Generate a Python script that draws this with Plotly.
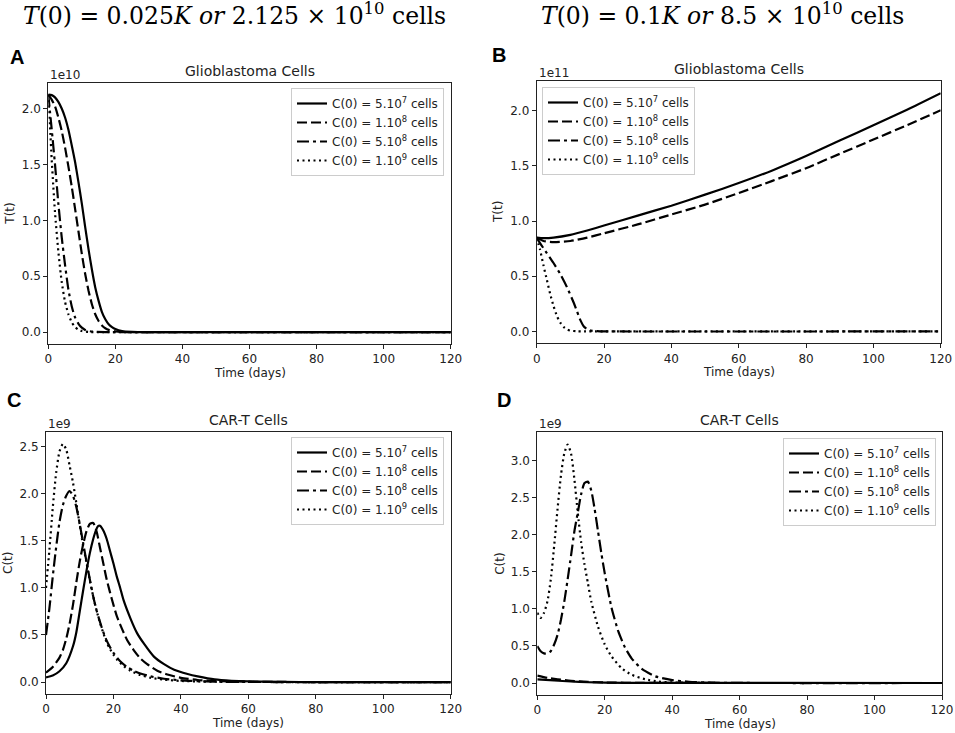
import plotly.graph_objects as go

# ---------------- data ----------------
legend_labels = ["C(0) = 5.10<sup>7</sup> cells", "C(0) = 1.10<sup>8</sup> cells",
                 "C(0) = 5.10<sup>8</sup> cells", "C(0) = 1.10<sup>9</sup> cells"]

# Panel A: T(t) in units of 1e10, T(0)=0.025K
a_t1 = [0, 1, 2, 3, 4, 5, 6, 7, 8, 9, 10, 11, 12, 13, 14, 15, 16, 17, 18, 19, 20, 22, 25, 30, 40, 120]
a_v1 = [2.125, 2.12, 2.10, 2.06, 2.00, 1.92, 1.81, 1.67, 1.52, 1.34, 1.15, 0.94, 0.74, 0.56, 0.40, 0.28, 0.18, 0.115, 0.07, 0.045, 0.028, 0.01, 0.003, 0.0005, 0, 0]
a_t2 = [0, 1, 2, 3, 4, 5, 6, 7, 8, 9, 10, 11, 12, 13, 14, 15, 16, 17, 18, 20, 22, 25, 30, 120]
a_v2 = [2.125, 2.08, 2.02, 1.92, 1.80, 1.65, 1.48, 1.30, 1.10, 0.90, 0.70, 0.52, 0.37, 0.25, 0.16, 0.10, 0.06, 0.035, 0.02, 0.007, 0.002, 0.0005, 0, 0]
a_t3 = [0, 0.5, 1, 2, 3, 4, 5, 6, 7, 8, 9, 10, 11, 12, 14, 17, 20, 120]
a_v3 = [2.125, 1.97, 1.82, 1.50, 1.15, 0.85, 0.60, 0.38, 0.23, 0.13, 0.075, 0.04, 0.02, 0.01, 0.003, 0.0005, 0, 0]
a_t4 = [0, 0.5, 1, 1.5, 2, 3, 4, 5, 6, 7, 8, 9, 10, 12, 15, 120]
a_v4 = [2.125, 1.85, 1.55, 1.30, 1.07, 0.72, 0.45, 0.27, 0.16, 0.088, 0.045, 0.022, 0.01, 0.002, 0, 0]

# Panel B: T(t) in units of 1e11, T(0)=0.1K
b_t1 = [0, 2, 5, 10, 15, 20, 30, 40, 50, 60, 70, 80, 90, 100, 110, 120]
b_v1 = [0.85, 0.845, 0.85, 0.875, 0.915, 0.96, 1.05, 1.14, 1.24, 1.345, 1.46, 1.59, 1.73, 1.87, 2.01, 2.16]
b_t2 = [0, 2, 5, 10, 15, 20, 30, 40, 50, 60, 70, 80, 90, 100, 110, 120]
b_v2 = [0.85, 0.82, 0.81, 0.82, 0.85, 0.89, 0.97, 1.06, 1.15, 1.255, 1.365, 1.48, 1.61, 1.74, 1.87, 2.005]
b_t3 = [0, 1, 3, 5, 7, 9, 11, 12, 13, 14, 15, 16, 18, 20, 120]
b_v3 = [0.85, 0.80, 0.71, 0.62, 0.52, 0.40, 0.26, 0.18, 0.10, 0.045, 0.02, 0.008, 0.002, 0, 0]
b_t4 = [0, 1, 2, 3, 4, 5, 6, 7, 8, 9, 10, 12, 14, 120]
b_v4 = [0.85, 0.74, 0.60, 0.47, 0.34, 0.23, 0.14, 0.08, 0.04, 0.018, 0.007, 0.001, 0, 0]

# Panel C: C(t) in units of 1e9, T(0)=0.025K
c_t1 = [0, 2, 4, 6, 8, 9, 10, 11, 12, 13, 14, 15, 15.5, 16, 17, 18, 19, 20, 21, 22, 23, 25, 27, 29, 32, 35, 38, 42, 45, 50, 55, 60, 70, 80, 120]
c_v1 = [0.05, 0.07, 0.115, 0.2, 0.38, 0.53, 0.75, 0.97, 1.18, 1.37, 1.52, 1.63, 1.66, 1.66, 1.61, 1.52, 1.39, 1.26, 1.12, 1.0, 0.87, 0.68, 0.52, 0.41, 0.27, 0.19, 0.13, 0.085, 0.06, 0.028, 0.014, 0.007, 0.002, 0, 0]
c_t2 = [0, 2, 4, 5, 6, 7, 8, 9, 10, 11, 12, 13, 14, 15, 16, 17, 18, 19, 20, 21, 22, 24, 26, 28, 30, 33, 36, 40, 45, 50, 60, 70, 80, 120]
c_v2 = [0.1, 0.16, 0.26, 0.34, 0.46, 0.62, 0.82, 1.06, 1.28, 1.46, 1.60, 1.68, 1.69, 1.60, 1.43, 1.26, 1.09, 0.95, 0.82, 0.70, 0.61, 0.45, 0.34, 0.25, 0.19, 0.12, 0.08, 0.045, 0.022, 0.011, 0.003, 0.001, 0, 0]
c_t3 = [0, 1, 2, 3, 4, 5, 6, 7, 8, 9, 10, 11, 12, 13, 14, 15, 16, 17, 18, 19, 20, 22, 24, 26, 28, 31, 35, 40, 45, 50, 60, 70, 120]
c_v3 = [0.5, 0.78, 1.12, 1.43, 1.70, 1.88, 1.98, 2.03, 1.98, 1.86, 1.68, 1.48, 1.28, 1.09, 0.91, 0.76, 0.64, 0.53, 0.44, 0.37, 0.31, 0.22, 0.16, 0.12, 0.09, 0.06, 0.035, 0.018, 0.009, 0.004, 0.001, 0, 0]
c_t4 = [0, 1, 2, 3, 4, 5, 6, 7, 8, 9, 10, 11, 12, 13, 14, 15, 16, 17, 18, 19, 20, 21, 23, 25, 28, 31, 35, 40, 45, 50, 60, 70, 120]
c_v4 = [1.0, 1.4, 1.85, 2.22, 2.45, 2.53, 2.47, 2.30, 2.12, 1.90, 1.67, 1.45, 1.27, 1.08, 0.91, 0.76, 0.63, 0.52, 0.42, 0.35, 0.29, 0.24, 0.17, 0.12, 0.075, 0.045, 0.025, 0.012, 0.006, 0.003, 0.001, 0, 0]

# Panel D: C(t) in units of 1e9, T(0)=0.1K
d_t1 = [0, 5, 10, 15, 20, 30, 120]
d_v1 = [0.05, 0.035, 0.02, 0.01, 0.005, 0.001, 0]
d_t2 = [0, 3, 6, 10, 15, 20, 30, 120]
d_v2 = [0.1, 0.07, 0.05, 0.03, 0.015, 0.007, 0.002, 0]
d_t3 = [0, 1, 2, 3, 4, 5, 6, 7, 8, 9, 10, 11, 12, 13, 14, 15, 16, 17, 18, 19, 20, 22, 24, 26, 28, 31, 35, 40, 45, 50, 60, 120]
d_v3 = [0.5, 0.43, 0.40, 0.40, 0.43, 0.52, 0.65, 0.85, 1.10, 1.40, 1.72, 2.05, 2.30, 2.55, 2.70, 2.72, 2.60, 2.35, 2.05, 1.75, 1.48, 1.02, 0.70, 0.48, 0.33, 0.19, 0.09, 0.04, 0.017, 0.007, 0.001, 0]
d_t4 = [0, 1, 2, 3, 4, 5, 6, 7, 8, 9, 10, 11, 12, 13, 14, 15, 16, 18, 20, 22, 25, 28, 32, 36, 40, 50, 60, 120]
d_v4 = [0.95, 0.88, 0.95, 1.10, 1.40, 1.85, 2.35, 2.80, 3.10, 3.22, 3.10, 2.75, 2.30, 1.90, 1.60, 1.35, 1.10, 0.76, 0.52, 0.36, 0.20, 0.11, 0.05, 0.02, 0.008, 0.001, 0, 0]

panel_series = {
    "A": [(a_t1, a_v1), (a_t2, a_v2), (a_t3, a_v3), (a_t4, a_v4)],
    "B": [(b_t1, b_v1), (b_t2, b_v2), (b_t3, b_v3), (b_t4, b_v4)],
    "C": [(c_t1, c_v1), (c_t2, c_v2), (c_t3, c_v3), (c_t4, c_v4)],
    "D": [(d_t1, d_v1), (d_t2, d_v2), (d_t3, d_v3), (d_t4, d_v4)],
}
panel_titles = {"A": "Glioblastoma Cells", "B": "Glioblastoma Cells", "C": "CAR-T Cells", "D": "CAR-T Cells"}
panel_ylabels = {"A": "T(t)", "B": "T(t)", "C": "C(t)", "D": "C(t)"}
panel_offsets = {"A": "1e10", "B": "1e11", "C": "1e9", "D": "1e9"}
panel_yticks = {"A": [0, 0.5, 1.0, 1.5, 2.0], "B": [0, 0.5, 1.0, 1.5, 2.0],
                "C": [0, 0.5, 1.0, 1.5, 2.0, 2.5], "D": [0, 0.5, 1.0, 1.5, 2.0, 2.5, 3.0]}
x_ticks = [0, 20, 40, 60, 80, 100, 120]
headers = ["<i>T</i>(0) = 0.025<i>K</i> <i>or</i> 2.125 × 10<sup>10</sup> cells",
           "<i>T</i>(0) = 0.1<i>K</i> <i>or</i> 8.5 × 10<sup>10</sup> cells"]

# ---------------- layout geometry ----------------
W, H = 955, 733
dash_styles = ["solid", "10px,4px", "12px,4px,3px,4px", "2px,3.5px"]
# plot frames in pixels: left, right, top, bottom
frames = {"A": (48.3, 450.7, 82.7, 344), "B": (536.7, 940.7, 81.3, 343.3),
          "C": (46, 450.7, 432, 694), "D": (537.3, 942, 432, 695)}
yranges = {"A": [-0.106, 2.231], "B": [-0.108, 2.268], "C": [-0.127, 2.657], "D": [-0.162, 3.39]}
legend_pos = {"A": (444, 88, "right"), "B": (542, 87, "left"), "C": (444, 437, "right"), "D": (936, 438, "right")}
letter_pos = {"A": (17, 57), "B": (499, 55), "C": (14, 400), "D": (504, 400)}

TXT = "#222222"
FONT = "DejaVu Sans"
fig = go.Figure()
layout = dict(width=W, height=H, margin=dict(l=0, r=0, t=0, b=0, autoexpand=False),
              paper_bgcolor="white", plot_bgcolor="white", showlegend=True,
              font=dict(family=FONT, size=12, color=TXT))
annotations = []

for i, p in enumerate(["A", "B", "C", "D"]):
    n = "" if i == 0 else str(i + 1)
    l, r, t, b = frames[p]
    lg = "legend" + n
    for k, (tt, vv) in enumerate(panel_series[p]):
        fig.add_trace(go.Scatter(x=tt, y=vv, mode="lines", name=legend_labels[k],
                                 line=dict(color="black", width=2.2, dash=dash_styles[k], shape="spline", smoothing=0.6),
                                 xaxis="x" + n, yaxis="y" + n, legend=lg, hoverinfo="skip"))
    layout["xaxis" + n] = dict(domain=[l / W, r / W], anchor="y" + n, range=[0, 120],
                               tickvals=x_ticks, ticks="outside", ticklen=4, tickcolor=TXT,
                               showline=True, linecolor=TXT, linewidth=1, mirror=True,
                               showgrid=False, zeroline=False, tickfont=dict(size=12, color=TXT))
    layout["yaxis" + n] = dict(domain=[1 - b / H, 1 - t / H], anchor="x" + n, range=yranges[p],
                               tickvals=panel_yticks[p], tickformat=".1f", ticks="outside", ticklen=4,
                               tickcolor=TXT, showline=True, linecolor=TXT, linewidth=1, mirror=True,
                               showgrid=False, zeroline=False, tickfont=dict(size=12, color=TXT))
    lx, ly, anc = legend_pos[p]
    layout[lg] = dict(x=lx / W, y=1 - ly / H, xanchor=anc, yanchor="top", xref="paper", yref="paper",
                      bgcolor="rgba(255,255,255,0.85)", bordercolor="#cccccc", borderwidth=1,
                      font=dict(family=FONT, size=12, color=TXT), tracegroupgap=0, itemwidth=30)
    cx = (l + r) / 2
    # subplot title
    annotations.append(dict(text=panel_titles[p], x=cx / W, y=1 - (t - 12) / H, xref="paper", yref="paper",
                            showarrow=False, font=dict(size=14, color=TXT), xanchor="center", yanchor="middle"))
    # offset text
    annotations.append(dict(text=panel_offsets[p], x=l / W, y=1 - (t - 8) / H, xref="paper", yref="paper",
                            showarrow=False, font=dict(size=12, color=TXT), xanchor="left", yanchor="middle"))
    # x label
    annotations.append(dict(text="Time (days)", x=cx / W, y=1 - (b + 29) / H, xref="paper", yref="paper",
                            showarrow=False, font=dict(size=12, color=TXT), xanchor="center", yanchor="middle"))
    # y label
    annotations.append(dict(text=panel_ylabels[p], x=(l - 38) / W, y=1 - ((t + b) / 2) / H, xref="paper",
                            yref="paper", showarrow=False, textangle=-90, font=dict(size=12, color=TXT),
                            xanchor="center", yanchor="middle"))
    # panel letter
    px_, py_ = letter_pos[p]
    annotations.append(dict(text="<b>" + p + "</b>", x=px_ / W, y=1 - py_ / H, xref="paper", yref="paper",
                            showarrow=False, font=dict(family="Liberation Sans", size=20, color="black"),
                            xanchor="center", yanchor="middle"))

for hx, htxt in zip([234, 722], headers):
    annotations.append(dict(text=htxt, x=hx / W, y=1 - 15 / H, xref="paper", yref="paper", showarrow=False,
                            font=dict(family="DejaVu Serif", size=23.5, color="black"),
                            xanchor="center", yanchor="middle"))

layout["annotations"] = annotations
fig.update_layout(**layout)
fig.write_html("out.html", config={"displayModeBar": False},
               post_script="document.body.style.margin='0px';document.body.style.padding='0px';"
                           "document.documentElement.style.overflow='hidden';")
